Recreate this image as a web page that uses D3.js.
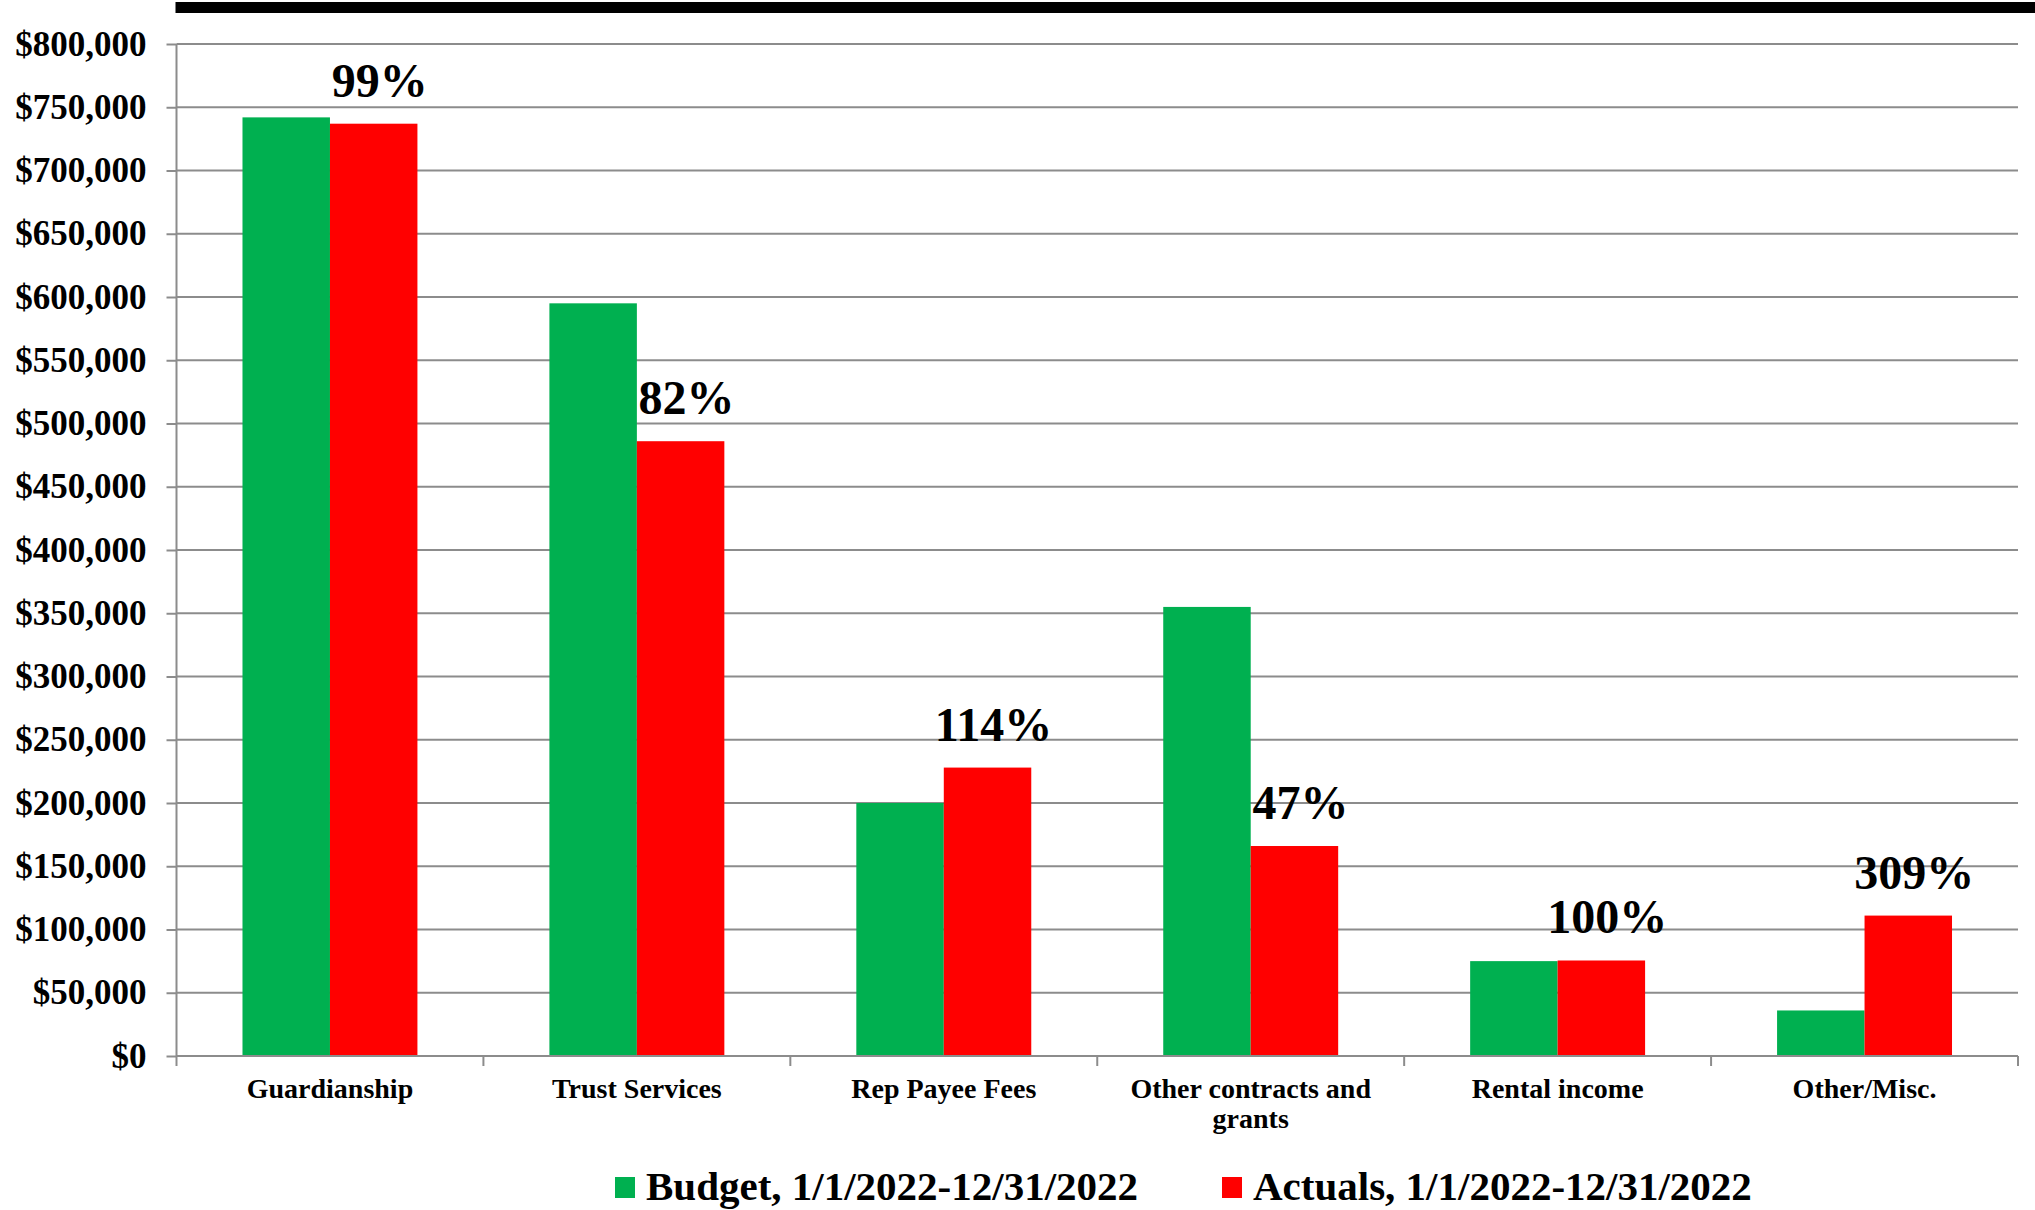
<!DOCTYPE html>
<html>
<head>
<meta charset="utf-8">
<script src="https://cdn.jsdelivr.net/npm/d3@7"></script>
<style>
  body { margin: 0; background: #fff; }
  text { font-family: "Liberation Serif", "Times New Roman", serif; font-weight: bold; fill: #000; }
</style>
</head>
<body>
<div id="chart"></div>
<script>
var categories = ["Guardianship", "Trust Services", "Rep Payee Fees", "Other contracts and grants", "Rental income", "Other/Misc."];
var budget = [742000, 595000, 200000, 355000, 75000, 36000];
var actuals = [737000, 486000, 228000, 166000, 75500, 111000];
var pctLabels = ["99%", "82%", "114%", "47%", "100%", "309%"];
var seriesNames = ["Budget, 1/1/2022-12/31/2022", "Actuals, 1/1/2022-12/31/2022"];
var seriesColors = ["#00B050", "#FF0000"];
var yTicks = d3.range(0, 800001, 50000);

var width = 2035, height = 1210;
var plotLeft = 176.5, plotRight = 2018, plotTop = 44, plotBottom = 1056;

var svg = d3.select("#chart")
	.append("svg")
	.attr("width", width)
	.attr("height", height);

// thick black rule across the top
svg.append("rect")
	.attr("x", plotLeft - 1)
	.attr("y", 2)
	.attr("width", width - plotLeft + 1)
	.attr("height", 11)
	.style("fill", "#000");

var x0 = d3.scaleBand()
	.domain(categories)
	.range([plotLeft, plotRight])
	.paddingInner(0)
	.paddingOuter(0);

var bw = x0.bandwidth();
var x1 = d3.scaleBand()
	.domain([0, 1])
	.range([bw * 0.215, bw * 0.785]);

var y = d3.scaleLinear()
	.domain([0, 800000])
	.range([plotBottom, plotTop]);

// gridlines + y ticks
var yAxis = svg.append("g")
	.attr("transform", "translate(" + plotLeft + ",0)")
	.call(d3.axisLeft(y)
		.tickValues(yTicks)
		.tickSize(10)
		.tickPadding(20)
		.tickFormat(function(d) { return "$" + d3.format(",")(d); }));
yAxis.select(".domain").remove();
yAxis.selectAll(".tick line").style("stroke", "#8c8c8c").style("stroke-width", 2);
yAxis.selectAll(".tick text").style("font-size", "35px").style("font-family", "'Liberation Serif', serif");

svg.append("g").selectAll("line.grid")
	.data(yTicks)
	.enter().append("line")
	.attr("class", "grid")
	.attr("x1", plotLeft)
	.attr("x2", plotRight)
	.attr("y1", function(d) { return y(d); })
	.attr("y2", function(d) { return y(d); })
	.style("stroke", "#8c8c8c")
	.style("stroke-width", 2);

// left axis line
svg.append("line")
	.attr("x1", plotLeft).attr("x2", plotLeft)
	.attr("y1", plotTop).attr("y2", plotBottom)
	.style("stroke", "#8c8c8c")
	.style("stroke-width", 2);

// bars
var data = categories.map(function(c, i) {
	return { cat: c, values: [budget[i], actuals[i]], pct: pctLabels[i] };
});

var groups = svg.selectAll(".cat")
	.data(data)
	.enter().append("g")
	.attr("class", "cat")
	.attr("transform", function(d) { return "translate(" + x0(d.cat) + ",0)"; });

groups.selectAll("rect")
	.data(function(d) { return d.values.map(function(v, k) { return { k: k, v: v }; }); })
	.enter().append("rect")
	.attr("x", function(d) { return x1(d.k); })
	.attr("width", x1.bandwidth())
	.attr("y", function(d) { return y(d.v); })
	.attr("height", function(d) { return plotBottom - y(d.v); })
	.style("fill", function(d) { return seriesColors[d.k]; });

groups.append("text")
	.attr("x", function(d) { return x1(1) + x1.bandwidth() / 2 + 6; })
	.attr("y", function(d) { return y(d.values[1]) - 27; })
	.attr("text-anchor", "middle")
	.style("font-size", "48px")
	.text(function(d) { return d.pct; });

// x axis
var xAxis = svg.append("g")
	.attr("transform", "translate(0," + plotBottom + ")");
xAxis.append("line")
	.attr("x1", plotLeft).attr("x2", plotRight)
	.style("stroke", "#8c8c8c")
	.style("stroke-width", 2);
xAxis.selectAll("line.tick")
	.data(categories.concat([null]))
	.enter().append("line")
	.attr("class", "tick")
	.attr("x1", function(d, i) { return plotLeft + i * bw; })
	.attr("x2", function(d, i) { return plotLeft + i * bw; })
	.attr("y1", 0).attr("y2", 10)
	.style("stroke", "#8c8c8c")
	.style("stroke-width", 2);

var catLines = {
	"Other contracts and grants": ["Other contracts and", "grants"]
};
var catLabels = xAxis.selectAll("text.cat")
	.data(categories)
	.enter().append("text")
	.attr("class", "cat")
	.attr("text-anchor", "middle")
	.attr("transform", function(d) { return "translate(" + (x0(d) + bw / 2) + ",42)"; })
	.style("font-size", "28px");
catLabels.each(function(d) {
	var lines = catLines[d] || [d];
	d3.select(this).selectAll("tspan")
		.data(lines)
		.enter().append("tspan")
		.attr("x", 0)
		.attr("dy", function(l, i) { return i === 0 ? 0 : 30; })
		.text(function(l) { return l; });
});

// legend
var legendX = [615, 1222];
var legend = svg.selectAll(".legend")
	.data(seriesNames)
	.enter().append("g")
	.attr("class", "legend")
	.attr("transform", function(d, i) { return "translate(" + legendX[i] + ",1177)"; });
legend.append("rect")
	.attr("width", 20)
	.attr("height", 21)
	.style("fill", function(d, i) { return seriesColors[i]; });
legend.append("text")
	.attr("x", 31)
	.attr("y", 23)
	.style("font-size", "41px")
	.text(function(d) { return d; });
</script>
</body>
</html>
